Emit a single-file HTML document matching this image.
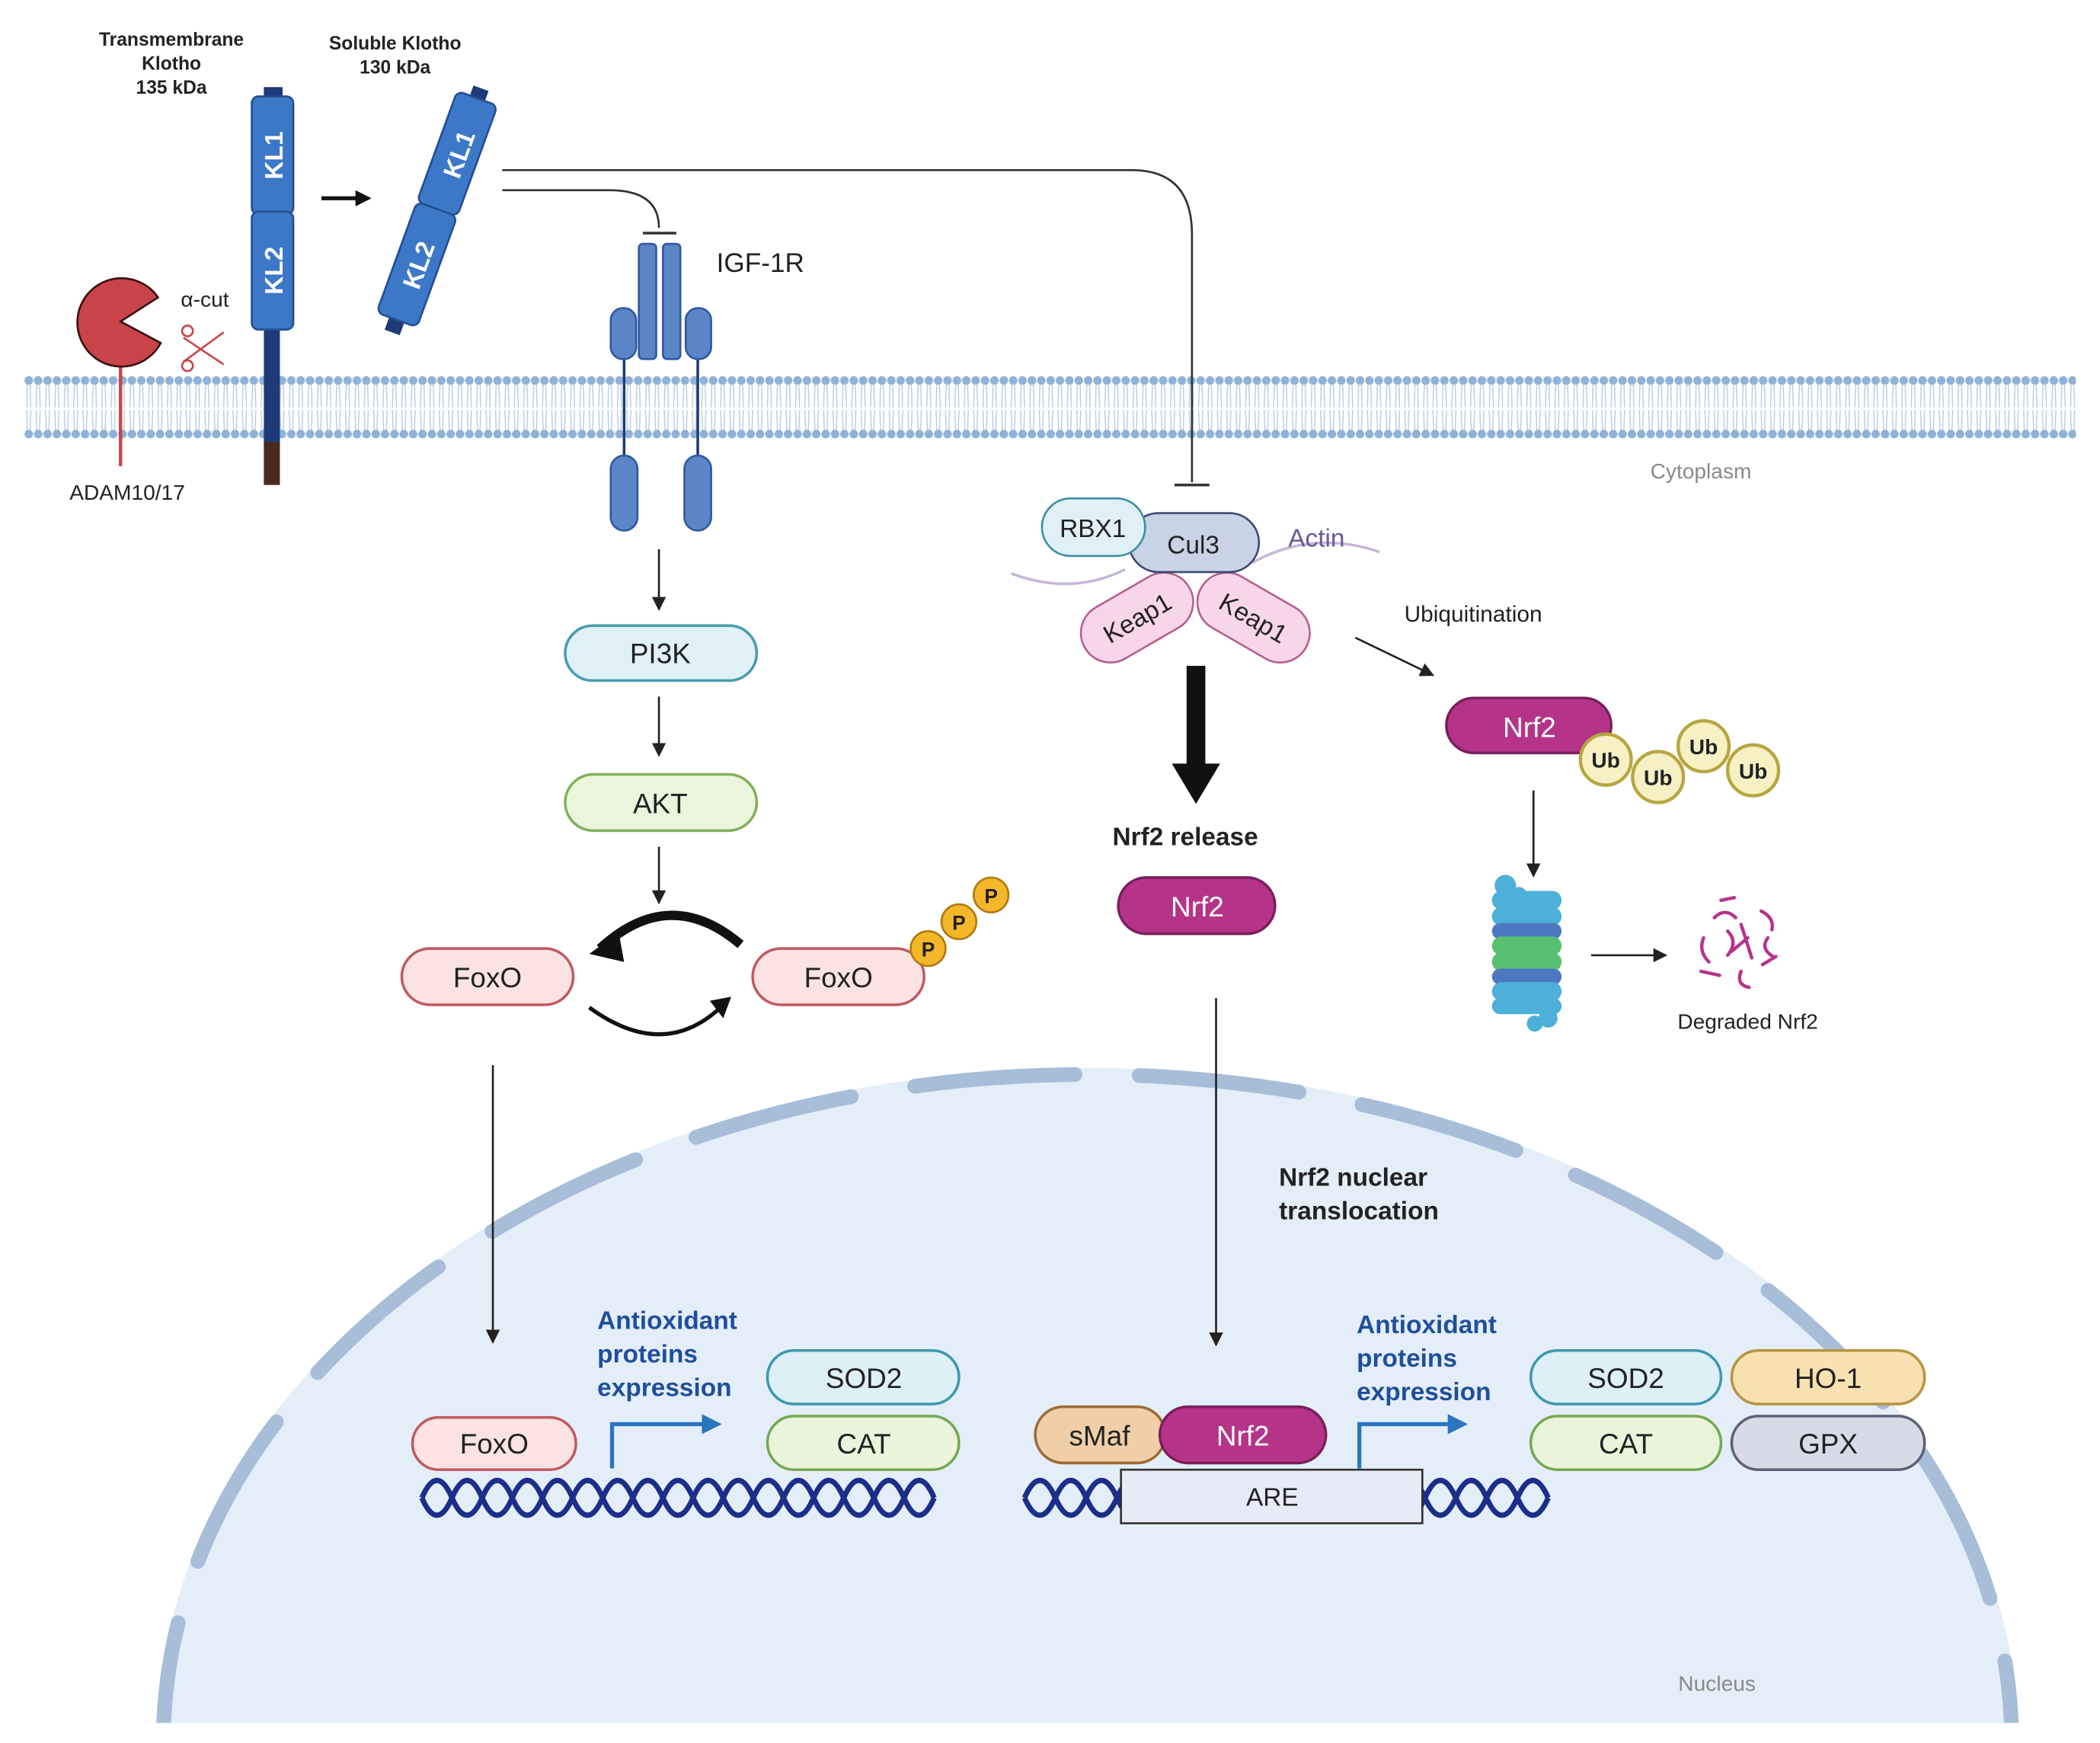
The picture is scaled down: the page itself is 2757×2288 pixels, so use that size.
<!DOCTYPE html>
<html><head><meta charset="utf-8"><style>
html,body{margin:0;padding:0;background:#fff;width:2757px;height:2288px;overflow:hidden}
svg{display:block}
text{font-family:"Liberation Sans",sans-serif}
</style></head><body>
<svg width="2757" height="2288" viewBox="0 0 1568 1301" preserveAspectRatio="none" xmlns="http://www.w3.org/2000/svg">
<defs>
<pattern id="mem" x="18" y="280" width="7" height="50" patternUnits="userSpaceOnUse">
<circle cx="3.5" cy="4" r="3.2" fill="#8fb2d6"/>
<circle cx="3.5" cy="44" r="3.2" fill="#8fb2d6"/>
<path d="M2.5,7 L2,24 M4.5,7 L5,24 M2,26 L2.5,41 M5,26 L4.5,41" stroke="#b5cbe3" stroke-width="0.8"/>
</pattern>
<marker id="ah" viewBox="0 0 10 10" refX="9" refY="5" markerWidth="7" markerHeight="7" orient="auto"><path d="M0,0 L10,5 L0,10 z" fill="#222"/></marker>
<marker id="ahb" viewBox="0 0 10 10" refX="8" refY="5" markerWidth="5" markerHeight="5" orient="auto"><path d="M0,0 L10,5 L0,10 z" fill="#2a74c0"/></marker>
<marker id="ahk" viewBox="0 0 10 10" refX="8" refY="5" markerWidth="4" markerHeight="4" orient="auto"><path d="M0,0 L10,5 L0,10 z" fill="#111"/></marker>
</defs>
<rect width="1568" height="1301" fill="#fff"/>

<!-- Nucleus -->
<ellipse cx="812" cy="1300" rx="695" ry="503" fill="#e4eef9"/>
<ellipse cx="812" cy="1300" rx="690" ry="498" fill="none" stroke="#a7bdd8" stroke-width="11" stroke-linecap="round" stroke-dasharray="120 48"/>
<rect x="0" y="1286" width="1568" height="20" fill="#fff"/>

<!-- Membrane -->
<rect x="18" y="280" width="1532" height="50" fill="url(#mem)"/>
<text x="1270" y="357" font-size="16" fill="#8a8a8a" text-anchor="middle">Cytoplasm</text>
<text x="1282" y="1262" font-size="16" fill="#8a8a8a" text-anchor="middle">Nucleus</text>

<!-- Header labels -->
<g font-size="14" font-weight="bold" fill="#222" text-anchor="middle">
<text x="128" y="34">Transmembrane</text><text x="128" y="52">Klotho</text><text x="128" y="70">135 kDa</text>
<text x="295" y="37">Soluble Klotho</text><text x="295" y="55">130 kDa</text>
</g>

<!-- Transmembrane Klotho -->
<rect x="197" y="65" width="14" height="10" fill="#1e3a78"/>
<rect x="197" y="245" width="12" height="88" fill="#1e3a78"/>
<rect x="197" y="330" width="12" height="32" fill="#4a2a20"/>
<rect x="188" y="72" width="31" height="88" rx="5" fill="#3d78c8" stroke="#244e92" stroke-width="1.5"/>
<rect x="188" y="158" width="31" height="88" rx="5" fill="#3d78c8" stroke="#244e92" stroke-width="1.5"/>
<text transform="translate(211,116) rotate(-90)" font-size="19" font-weight="bold" fill="#fff" text-anchor="middle">KL1</text>
<text transform="translate(211,202) rotate(-90)" font-size="19" font-weight="bold" fill="#fff" text-anchor="middle">KL2</text>
<line x1="240" y1="148" x2="275" y2="148" stroke="#111" stroke-width="3" marker-end="url(#ahk)"/>

<!-- Soluble Klotho -->
<g transform="rotate(20 326 157)">
<rect x="320" y="60" width="12" height="12" fill="#1e3a78"/>
<rect x="320" y="242" width="12" height="12" fill="#1e3a78"/>
<rect x="310" y="68" width="32" height="88" rx="5" fill="#3d78c8" stroke="#244e92" stroke-width="1.5"/>
<rect x="310" y="156" width="32" height="88" rx="5" fill="#3d78c8" stroke="#244e92" stroke-width="1.5"/>
<text transform="translate(334,112) rotate(-90)" font-size="19" font-weight="bold" fill="#fff" text-anchor="middle">KL1</text>
<text transform="translate(334,200) rotate(-90)" font-size="19" font-weight="bold" fill="#fff" text-anchor="middle">KL2</text>
</g>

<!-- ADAM -->
<line x1="90" y1="265" x2="90" y2="348" stroke="#c9444a" stroke-width="2.5"/>
<path d="M90,240 L118,222 A33,33 0 1 0 120,256 Z" fill="#c9444a" stroke="#3a1010" stroke-width="1.5"/>
<text x="95" y="373" font-size="16" fill="#222" text-anchor="middle">ADAM10/17</text>
<text x="153" y="229" font-size="16" fill="#222" text-anchor="middle">α-cut</text>
<g stroke="#c9444a" stroke-width="1.5" fill="none">
<line x1="137" y1="252" x2="167" y2="272"/><line x1="137" y1="270" x2="167" y2="248"/>
<circle cx="140" cy="247" r="4"/><circle cx="140" cy="273" r="4"/>
</g>

<!-- IGF-1R -->
<path d="M375,142 L455,142 Q492,142 492,170" fill="none" stroke="#333" stroke-width="1.5"/>
<line x1="480" y1="174" x2="505" y2="174" stroke="#333" stroke-width="2"/>
<line x1="466" y1="265" x2="466" y2="345" stroke="#1e3a78" stroke-width="2"/>
<line x1="521" y1="265" x2="521" y2="345" stroke="#1e3a78" stroke-width="2"/>
<g fill="#5a86c8" stroke="#2f5aa0" stroke-width="1.5">
<rect x="477" y="182" width="13" height="86" rx="3"/><rect x="495" y="182" width="13" height="86" rx="3"/>
<rect x="456" y="230" width="19" height="38" rx="9"/><rect x="512" y="230" width="19" height="38" rx="9"/>
<rect x="456" y="340" width="20" height="56" rx="10"/><rect x="511" y="340" width="20" height="56" rx="10"/>
</g>
<text x="535" y="203" font-size="20" fill="#222">IGF-1R</text>

<!-- long inhibition line -->
<path d="M375,127 L845,127 Q890,127 890,175 L890,360" fill="none" stroke="#333" stroke-width="1.5"/>
<line x1="877" y1="362" x2="903" y2="362" stroke="#333" stroke-width="2"/>

<!-- arrows -->
<g stroke="#222" stroke-width="1.5" marker-end="url(#ah)">
<line x1="492" y1="410" x2="492" y2="455"/>
<line x1="492" y1="520" x2="492" y2="564"/>
<line x1="492" y1="632" x2="492" y2="674"/>
<line x1="368" y1="795" x2="368" y2="1002"/>
<line x1="908" y1="745" x2="908" y2="1004"/>
<line x1="1145" y1="590" x2="1145" y2="654"/>
<line x1="1188" y1="713" x2="1244" y2="713"/>
<line x1="1012" y1="476" x2="1070" y2="504"/>
</g>
<rect x="422" y="467" width="143" height="41" rx="20.5" fill="#dff1f7" stroke="#4a9bb0" stroke-width="2"/>
<text x="493" y="495" font-size="21" fill="#222" text-anchor="middle">PI3K</text>
<rect x="422" y="578" width="143" height="42" rx="21" fill="#eaf5dc" stroke="#7fb05a" stroke-width="2"/>
<text x="493" y="607" font-size="21" fill="#222" text-anchor="middle">AKT</text>

<!-- FoxO cycle -->
<path d="M553,705 Q500,660 448,708" fill="none" stroke="#111" stroke-width="7"/>
<path d="M440,712 L462,696 L466,718 Z" fill="#111"/>
<path d="M440,752 Q495,792 538,752" fill="none" stroke="#111" stroke-width="3"/>
<path d="M546,744 L530,747 L540,760 Z" fill="#111"/>
<rect x="300" y="708" width="128" height="42" rx="21" fill="#fbe3e3" stroke="#c0595f" stroke-width="2"/>
<text x="364" y="737" font-size="21" fill="#222" text-anchor="middle">FoxO</text>
<rect x="562" y="708" width="128" height="42" rx="21" fill="#fbe3e3" stroke="#c0595f" stroke-width="2"/>
<text x="626" y="737" font-size="21" fill="#222" text-anchor="middle">FoxO</text>
<g fill="#f5b72a" stroke="#b07a10" stroke-width="1.5">
<circle cx="740" cy="668" r="13"/><circle cx="716" cy="688" r="13"/><circle cx="693" cy="708" r="13"/>
</g>
<g font-size="15" font-weight="bold" fill="#222" text-anchor="middle">
<text x="740" y="674">P</text><text x="716" y="694">P</text><text x="693" y="714">P</text>
</g>

<!-- Keap1 complex -->
<path d="M755,428 Q800,445 840,425 M935,420 Q980,395 1030,412" fill="none" stroke="#c6b6d8" stroke-width="2"/>
<g transform="rotate(-30 849 461)"><rect x="804" y="439" width="90" height="44" rx="22" fill="#f8d6ea" stroke="#b5608f" stroke-width="1.5"/>
<text x="849" y="468" font-size="19" fill="#222" text-anchor="middle">Keap1</text></g>
<g transform="rotate(30 936 461)"><rect x="891" y="439" width="90" height="44" rx="22" fill="#f8d6ea" stroke="#b5608f" stroke-width="1.5"/>
<text x="936" y="468" font-size="19" fill="#222" text-anchor="middle">Keap1</text></g>
<rect x="843" y="383" width="97" height="44" rx="22" fill="#c9d3e6" stroke="#3a4a70" stroke-width="1.5"/>
<text x="891" y="413" font-size="19" fill="#222" text-anchor="middle">Cul3</text>
<rect x="778" y="372" width="77" height="43" rx="21.5" fill="#dff1f7" stroke="#3c8ea0" stroke-width="1.5"/>
<text x="816" y="401" font-size="19" fill="#222" text-anchor="middle">RBX1</text>
<text x="983" y="408" font-size="19" fill="#6a5a9a" text-anchor="middle">Actin</text>

<rect x="886" y="497" width="14" height="75" fill="#111"/>
<path d="M875,570 L911,570 L893,600 Z" fill="#111"/>
<text x="885" y="631" font-size="19" font-weight="bold" fill="#222" text-anchor="middle">Nrf2 release</text>
<rect x="835" y="655" width="117" height="42" rx="21" fill="#b5348a" stroke="#7a1f5c" stroke-width="2"/>
<text x="894" y="684" font-size="21" fill="#fff" text-anchor="middle">Nrf2</text>

<text x="1100" y="464" font-size="17" fill="#222" text-anchor="middle">Ubiquitination</text>
<rect x="1080" y="521" width="123" height="41" rx="20.5" fill="#b5348a" stroke="#7a1f5c" stroke-width="2"/>
<text x="1142" y="550" font-size="21" fill="#fff" text-anchor="middle">Nrf2</text>
<g fill="#f6f0c4" stroke="#b7a640" stroke-width="2.5">
<circle cx="1199" cy="567" r="19"/><circle cx="1238" cy="580" r="19"/><circle cx="1272" cy="557" r="19"/><circle cx="1309" cy="575" r="19"/>
</g>
<g font-size="16" font-weight="bold" fill="#222" text-anchor="middle">
<text x="1199" y="573">Ub</text><text x="1238" y="586">Ub</text><text x="1272" y="563">Ub</text><text x="1309" y="581">Ub</text>
</g>

<!-- proteasome -->
<g>
<rect x="1114" y="665" width="52" height="14" rx="7" fill="#4cb0d8"/>
<rect x="1114" y="677" width="52" height="14" rx="7" fill="#4cb0d8"/>
<rect x="1114" y="689" width="52" height="12" rx="6" fill="#4c78c0"/>
<rect x="1114" y="699" width="52" height="14" rx="7" fill="#58c070"/>
<rect x="1114" y="711" width="52" height="14" rx="7" fill="#58c070"/>
<rect x="1114" y="723" width="52" height="12" rx="6" fill="#4c78c0"/>
<rect x="1114" y="733" width="52" height="14" rx="7" fill="#4cb0d8"/>
<rect x="1114" y="745" width="52" height="12" rx="6" fill="#4cb0d8"/>
<circle cx="1124" cy="661" r="8" fill="#4cb0d8"/><circle cx="1134" cy="668" r="6" fill="#4cb0d8"/>
<circle cx="1156" cy="760" r="7" fill="#4cb0d8"/><circle cx="1146" cy="764" r="6" fill="#4cb0d8"/>
</g>
<g fill="none" stroke="#b5348a" stroke-width="2.5" stroke-linecap="round">
<path d="M1280,685 q8,-8 16,0 M1272,700 q-4,10 4,18 M1290,695 q8,8 0,18 M1300,690 l8,25 M1305,700 l-12,10 M1315,680 q10,5 8,14 M1320,700 q-6,8 4,14 M1270,725 l14,3 M1300,725 q-4,10 6,12 M1316,720 l10,-6 M1285,672 l10,-2"/>
</g>
<text x="1305" y="768" font-size="16" fill="#222" text-anchor="middle">Degraded Nrf2</text>

<text x="955" y="885" font-size="19" font-weight="bold" fill="#222">Nrf2 nuclear</text>
<text x="955" y="910" font-size="19" font-weight="bold" fill="#222">translocation</text>

<!-- DNA -->
<g fill="none" stroke="#1c2e8a" stroke-width="4">
<path d="M315,1118 q11.25,-26 22.5,0 t22.5,0 t22.5,0 t22.5,0 t22.5,0 t22.5,0 t22.5,0 t22.5,0 t22.5,0 t22.5,0 t22.5,0 t22.5,0 t22.5,0 t22.5,0 t22.5,0 t22.5,0 t22.5,0"/>
<path d="M315,1118 q11.25,26 22.5,0 t22.5,0 t22.5,0 t22.5,0 t22.5,0 t22.5,0 t22.5,0 t22.5,0 t22.5,0 t22.5,0 t22.5,0 t22.5,0 t22.5,0 t22.5,0 t22.5,0 t22.5,0 t22.5,0"/>
<path d="M765,1118 q11.5,-26 23,0 t23,0 t23,0 t23,0 t23,0 t23,0 t23,0 t23,0 t23,0 t23,0 t23,0 t23,0 t23,0 t23,0 t23,0 t23,0 t23,0"/>
<path d="M765,1118 q11.5,26 23,0 t23,0 t23,0 t23,0 t23,0 t23,0 t23,0 t23,0 t23,0 t23,0 t23,0 t23,0 t23,0 t23,0 t23,0 t23,0 t23,0"/>
</g>
<rect x="308" y="1058" width="122" height="39" rx="19.5" fill="#fbe3e3" stroke="#c0595f" stroke-width="2"/>
<text x="369" y="1085" font-size="21" fill="#222" text-anchor="middle">FoxO</text>
<path d="M457,1096 L457,1063 L536,1063" fill="none" stroke="#2a74c0" stroke-width="3" marker-end="url(#ahb)"/>
<g font-size="19" font-weight="bold" fill="#1f4e9c">
<text x="446" y="992">Antioxidant</text><text x="446" y="1017">proteins</text><text x="446" y="1042">expression</text>
<text x="1013" y="995">Antioxidant</text><text x="1013" y="1020">proteins</text><text x="1013" y="1045">expression</text>
</g>
<rect x="573" y="1008" width="143" height="40" rx="20" fill="#ddf0f6" stroke="#3d98ac" stroke-width="2"/>
<text x="645" y="1036" font-size="21" fill="#222" text-anchor="middle">SOD2</text>
<rect x="573" y="1057" width="143" height="40" rx="20" fill="#e9f4da" stroke="#74a84f" stroke-width="2"/>
<text x="645" y="1085" font-size="21" fill="#222" text-anchor="middle">CAT</text>

<rect x="837" y="1097" width="225" height="40" fill="#e8eaf8" stroke="#333" stroke-width="1.5"/>
<text x="950" y="1124" font-size="19" fill="#222" text-anchor="middle">ARE</text>
<rect x="773" y="1050" width="97" height="42" rx="21" fill="#f0cfa8" stroke="#9c6a34" stroke-width="2"/>
<text x="821" y="1079" font-size="21" fill="#222" text-anchor="middle">sMaf</text>
<rect x="866" y="1050" width="124" height="42" rx="21" fill="#b5348a" stroke="#7a1f5c" stroke-width="2"/>
<text x="928" y="1079" font-size="21" fill="#fff" text-anchor="middle">Nrf2</text>
<path d="M1015,1096 L1015,1063 L1093,1063" fill="none" stroke="#2a74c0" stroke-width="3" marker-end="url(#ahb)"/>
<rect x="1143" y="1008" width="142" height="40" rx="20" fill="#ddf0f6" stroke="#3d98ac" stroke-width="2"/>
<text x="1214" y="1036" font-size="21" fill="#222" text-anchor="middle">SOD2</text>
<rect x="1293" y="1008" width="144" height="40" rx="20" fill="#f8e1b0" stroke="#b59540" stroke-width="2"/>
<text x="1365" y="1036" font-size="21" fill="#222" text-anchor="middle">HO-1</text>
<rect x="1143" y="1057" width="142" height="40" rx="20" fill="#e9f4da" stroke="#74a84f" stroke-width="2"/>
<text x="1214" y="1085" font-size="21" fill="#222" text-anchor="middle">CAT</text>
<rect x="1293" y="1057" width="144" height="40" rx="20" fill="#d8dae8" stroke="#5d6078" stroke-width="2"/>
<text x="1365" y="1085" font-size="21" fill="#222" text-anchor="middle">GPX</text>
</svg>
</body></html>
